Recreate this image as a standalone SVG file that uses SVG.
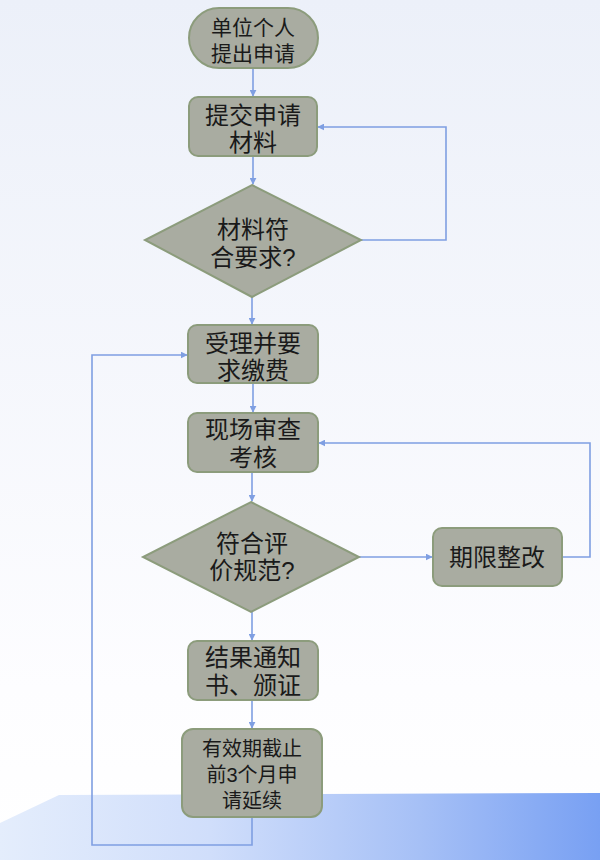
<svg xmlns="http://www.w3.org/2000/svg" width="600" height="860" viewBox="0 0 600 860">
<defs>
<linearGradient id="bg" x1="0" y1="0" x2="0" y2="1">
<stop offset="0" stop-color="#ecf0f9"/>
<stop offset="0.8" stop-color="#fdfdff"/>
<stop offset="1" stop-color="#ffffff"/>
</linearGradient>
<linearGradient id="floor" x1="0" y1="0" x2="1" y2="0">
<stop offset="0" stop-color="#e4edfc"/>
<stop offset="0.35" stop-color="#d0defb"/>
<stop offset="0.7" stop-color="#a6c0f6"/>
<stop offset="1" stop-color="#78a0f3"/>
</linearGradient>
<marker id="ah" viewBox="0 0 10 10" refX="9" refY="5" markerWidth="7" markerHeight="7" orient="auto" markerUnits="userSpaceOnUse">
<path d="M0,0 L10,5 L0,10 z" fill="#7f9fe2"/>
</marker>
<style>
.n{fill:#a9aca1;stroke:#8c9c7c;stroke-width:2}
.t{font-family:"Liberation Sans","Noto Sans CJK SC",sans-serif;font-size:24px;fill:#1a1a1a;text-anchor:middle;dominant-baseline:central}
.s{font-size:20px}
.c{fill:none;stroke:#7f9fe2;stroke-width:1.6}
</style>
</defs>
<rect width="600" height="860" fill="url(#bg)"/>
<path d="M59,795 L600,793 L600,860 L0,860 L0,823 Z" fill="url(#floor)"/>
<g id="connectors">
<path class="c" d="M253,68 L253,96" marker-end="url(#ah)"/>
<path class="c" d="M253,156 L253,184" marker-end="url(#ah)"/>
<path class="c" d="M361,240 L446,240 L446,127 L318,127" marker-end="url(#ah)"/>
<path class="c" d="M252,297 L252,324" marker-end="url(#ah)"/>
<path class="c" d="M253,383 L253,412" marker-end="url(#ah)"/>
<path class="c" d="M252,472 L252,501" marker-end="url(#ah)"/>
<path class="c" d="M359,557 L432,557" marker-end="url(#ah)"/>
<path class="c" d="M562,557 L590,557 L590,443 L319,443" marker-end="url(#ah)"/>
<path class="c" d="M252,612 L252,640" marker-end="url(#ah)"/>
<path class="c" d="M252,700 L252,728" marker-end="url(#ah)"/>
<path class="c" d="M252,817 L252,845 L92,845 L92,355 L187,355" marker-end="url(#ah)"/>
</g>
<g id="start">
<rect class="n" x="189" y="8" width="129" height="60" rx="30"/>
<text class="t" style="font-size:21px"><tspan x="253" y="27">单位个人</tspan><tspan x="253" y="53">提出申请</tspan></text>
</g>
<g id="submit">
<rect class="n" x="189" y="97" width="128" height="59" rx="9"/>
<text class="t"><tspan x="253" y="115">提交申请</tspan><tspan x="253" y="142">材料</tspan></text>
</g>
<g id="check1">
<polygon class="n" points="252,185 361,240 252,297 145,240"/>
<text class="t"><tspan x="253" y="229">材料符</tspan><tspan x="253" y="257">合要求?</tspan></text>
</g>
<g id="accept">
<rect class="n" x="188" y="325" width="130" height="58" rx="9"/>
<text class="t"><tspan x="253" y="343">受理并要</tspan><tspan x="253" y="370">求缴费</tspan></text>
</g>
<g id="review">
<rect class="n" x="188" y="413" width="130" height="59" rx="9"/>
<text class="t"><tspan x="253" y="429">现场审查</tspan><tspan x="253" y="457">考核</tspan></text>
</g>
<g id="check2">
<polygon class="n" points="251,502 359,557 251,612 143,557"/>
<text class="t"><tspan x="252" y="543">符合评</tspan><tspan x="252" y="570">价规范?</tspan></text>
</g>
<g id="rectify">
<rect class="n" x="433" y="528" width="129" height="58" rx="9"/>
<text class="t" x="497" y="557">期限整改</text>
</g>
<g id="notice">
<rect class="n" x="188" y="641" width="130" height="59" rx="9"/>
<text class="t"><tspan x="253" y="657">结果通知</tspan><tspan x="253" y="685">书、颁证</tspan></text>
</g>
<g id="renew">
<rect class="n" x="182" y="729" width="140" height="88" rx="11"/>
<text class="t s"><tspan x="252" y="749">有效期截止</tspan><tspan x="252" y="775">前3个月申</tspan><tspan x="252" y="801">请延续</tspan></text>
</g>
</svg>
